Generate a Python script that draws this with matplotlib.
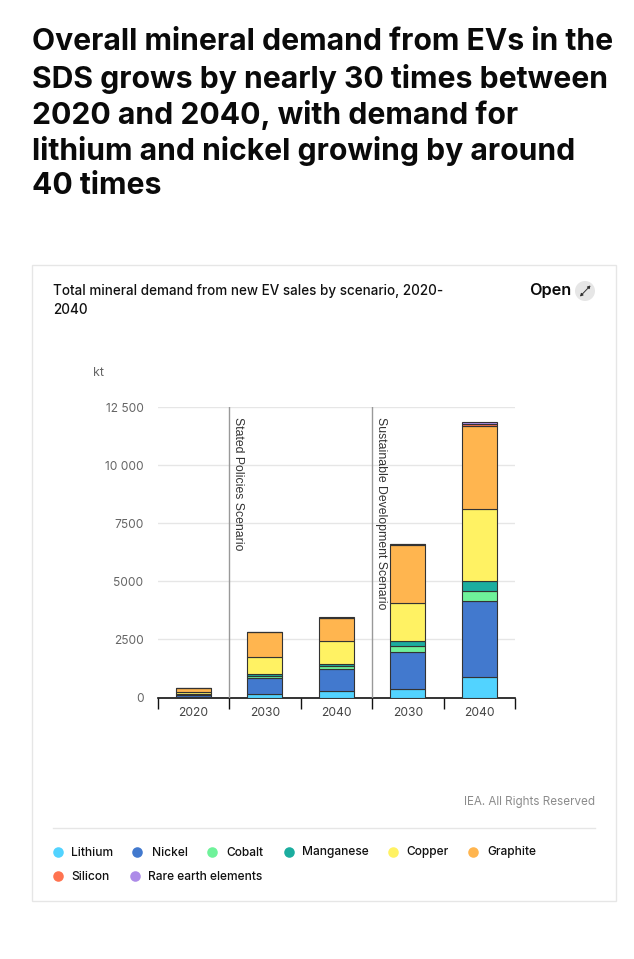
import numpy as np
import matplotlib
matplotlib.use("Agg")
import matplotlib.pyplot as plt
from matplotlib.patches import Rectangle, Circle
from matplotlib.lines import Line2D

W, H = 634, 959
plt.rcParams['font.family'] = ['Inter', 'DejaVu Sans']

title_lines = ["Overall mineral demand from EVs in the",
               "SDS grows by nearly 30 times between",
               "2020 and 2040, with demand for",
               "lithium and nickel growing by around",
               "40 times"]
subtitle_lines = ["Total mineral demand from new EV sales by scenario, 2020-", "2040"]
years = ["2020", "2030", "2040", "2030", "2040"]
scenarios = ["Stated Policies Scenario", "Sustainable Development Scenario"]
minerals = ["Lithium", "Nickel", "Cobalt", "Manganese", "Copper", "Graphite", "Silicon", "Rare earth elements"]
colors = ["#52D3FF", "#4279CE", "#6FF29A", "#1BAD9F", "#FFF263", "#FFB54F", "#FF7350", "#AD8BE8"]
lithium = [40, 170, 270, 370, 870]
nickel = [75, 650, 950, 1590, 3290]
cobalt = [10, 100, 129, 260, 432]
manganese = [15, 85, 86, 215, 431]
copper = [110, 720, 992, 1640, 3104]
graphite = [150, 1078, 992, 2500, 3560]
silicon = [3, 6, 20, 25, 100]
rare_earth = [2, 6, 20, 25, 50]
series = [lithium, nickel, cobalt, manganese, copper, graphite, silicon, rare_earth]
yticks = [0, 2500, 5000, 7500, 10000, 12500]
yticklabels = ["0", "2500", "5000", "7500", "10 000", "12 500"]

fig = plt.figure(figsize=(W / 100, H / 100), dpi=100, facecolor="white")
bg = fig.add_axes([0, 0, 1, 1])
bg.set_xlim(0, W); bg.set_ylim(H, 0); bg.axis("off")

for i, line in enumerate(title_lines):
    bg.text(32.5, 42.5 + i * 36, line, fontsize=21.7, fontweight="bold", color="#0a0a0a", va="center", ha="left")

bg.add_patch(Rectangle((32, 265), 583.5, 635.5, fc="white", ec="#e6e6e6", lw=1))
for i, line in enumerate(subtitle_lines):
    bg.text(53, 290.5 + i * 20, line, fontsize=9.7, fontweight="medium", color="#111111", va="center")
bg.text(529, 290.5, "Open", fontsize=11.7, fontweight="semibold", color="#0a0a0a", va="center")
bg.add_patch(Circle((585, 291), 10, fc="#e6e6e6", ec="none"))
bg.annotate("", xy=(590.5, 285.5), xytext=(580, 296.5),
            arrowprops=dict(arrowstyle="<|-|>,head_width=0.09,head_length=0.16", color="#333333", lw=0.7, shrinkA=0, shrinkB=0))
bg.text(93, 372.5, "kt", fontsize=9, color="#666666", va="center")
bg.text(595, 802.5, "IEA. All Rights Reserved", fontsize=8.4, color="#8c8c8c", va="center", ha="right")
bg.add_line(Line2D([53, 595], [827.5, 827.5], color="#e6e6e6", lw=1))

legend_dots = [(58, 852), (137, 852), (212, 852), (289, 852), (393, 852), (473, 852), (58, 876), (135, 876)]
legend_text = [(71, 852.5), (152, 852.5), (226, 852.5), (302, 852.5), (406, 852.5), (487, 852.5), (71, 876.5), (148, 876.5)]
for name, c, d, t in zip(minerals, colors, legend_dots, legend_text):
    bg.plot(*d, "o", ms=7.6, color=c, mec="none")
    bg.text(t[0], t[1], name, fontsize=8.6, fontweight="medium", color="#111111", va="center")

ax = fig.add_axes([157.5 / W, 1 - 697.5 / H, (515 - 157.5) / W, (697.5 - 407) / H])
ax.set_xlim(0, 5); ax.set_ylim(0, 12500)
ax.patch.set_alpha(0)
for s in ["top", "right", "left"]:
    ax.spines[s].set_visible(False)
ax.spines["bottom"].set_linewidth(1.2)
ax.spines["bottom"].set_color("#111111")
ax.set_yticks(yticks, yticklabels)
ax.tick_params(axis="y", length=0, pad=10, labelsize=8.6, labelcolor="#666666")
ax.set_xticks(np.arange(6))
ax.set_xticklabels([])
ax.tick_params(axis="x", length=8, width=1, color="#111111")
ax.set_xticks(np.arange(5) + 0.5, years, minor=True)
ax.tick_params(axis="x", which="minor", length=0, pad=7, labelsize=8.7, labelcolor="#444444")
ax.grid(axis="y", color="#e6e6e6", lw=1)
ax.set_axisbelow(True)

x = np.arange(5) + 0.5
bottom = np.zeros(5)
for vals, c in zip(series, colors):
    ax.bar(x, vals, width=0.495, bottom=bottom, color=c, edgecolor="#333333", lw=0.8, zorder=3)
    bottom += np.array(vals)

for xpos, label in zip([1, 3], scenarios):
    ax.axvline(xpos, color="#999999", lw=1, zorder=4)
    ax.annotate(label, xy=(xpos, 12500), xytext=(9, -10), textcoords="offset pixels",
                rotation=270, fontsize=8.85, family="Liberation Sans", color="#333333", va="top", ha="center",
                annotation_clip=False, zorder=5)

fig.savefig("out.png", dpi=100, facecolor="white")
